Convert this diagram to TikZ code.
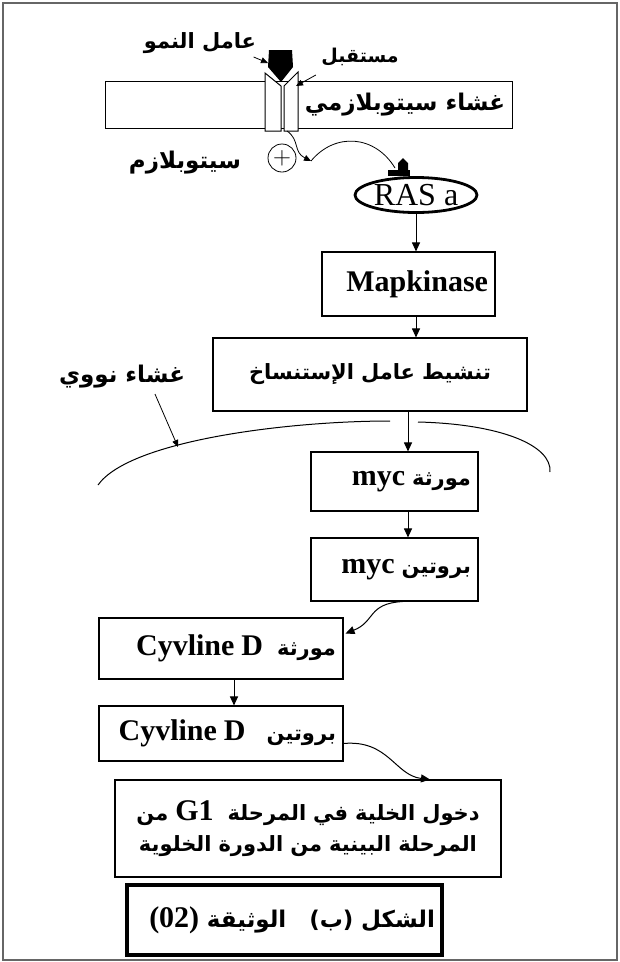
\documentclass[tikz,border=0pt]{standalone}
\usepackage{fontspec}
\setmainfont{Liberation Serif}
\newfontfamily\arabicfont[Script=Arabic]{DejaVu Sans}
\TeXXeTstate=1
\usetikzlibrary{arrows.meta,shapes.geometric,calc}
% latin words inside the arabic lines
\newcommand{\lat}[1]{\beginL{\rmfamily\bfseries\fontsize{30}{32}\selectfont #1}\endL{}}
\newcommand{\rtl}[1]{\beginR #1\endR}
\begin{document}
\begin{tikzpicture}[x=1pt,y=-1pt,
    box/.style={draw, line width=1.1pt, inner xsep=7pt, inner ysep=0pt},
    arr/.style={-{Triangle[length=9pt,width=8pt]}, line width=1pt},
    thinarr/.style={-{Triangle[length=7pt,width=6pt]}, line width=0.8pt},
    ar/.style={font=\arabicfont\bfseries\fontsize{21}{31}\selectfont},
    arbig/.style={font=\arabicfont\bfseries\fontsize{23}{30}\selectfont},
    lt/.style={font=\rmfamily\bfseries\fontsize{30}{32}\selectfont}]
\useasboundingbox (0,0) rectangle (620,962);
\draw[line width=1.5pt, black!60] (3,3) rectangle (617,960);
% membrane and receptor
\draw[line width=1pt] (105,81) rectangle (512,128);
\draw[line width=1pt, fill=white] (265,131) -- (265,73) -- (281,86) -- (281,131) -- cycle;
\draw[line width=1pt, fill=white] (284,131) -- (284,86) -- (298,72) -- (298,131) -- cycle;
\fill (269,50) -- (292,50) -- (293,67) -- (281,82) -- (268,67) -- cycle;
\coordinate (gf) at (268,63);
\coordinate (rcpt) at (296,86);
\coordinate (rbot) at (287,131);
\coordinate (kink) at (311,161);
\coordinate (nucpt) at (178,447);
\node[ar] (gflbl) at (200,43) {\rtl{عامل النمو}};
\node[ar, font=\arabicfont\bfseries\fontsize{19}{24}\selectfont] (rcptlbl) at (360,57) {\rtl{مستقبل}};
\node[arbig] (memlbl) at (405,105) {\rtl{غشاء سيتوبلازمي}};
\node[arbig] (cytlbl) at (185,163) {\rtl{سيتوبلازم}};
\node[draw, circle, line width=0.8pt, minimum size=28pt, inner sep=0pt, font=\fontsize{26}{26}\selectfont] (plus) at (282,158) {$+$};
\draw[thinarr] (gflbl.east) ++(-6,14) -- (gf);
\draw[thinarr] (rcptlbl.west) ++(-2,18) -- (rcpt);
% RAS
\node[draw, ellipse, line width=2.8pt, minimum width=122pt, minimum height=35pt, inner sep=0pt,
  font=\rmfamily\fontsize{32}{32}\selectfont] (ras) at (416,195) {RAS a};
\fill (388,170) rectangle (410,176);
\fill (398,176) -- (398,163) -- (403,158) -- (408,163) -- (408,176) -- cycle;
\draw[thinarr] (rbot) .. controls (300,140) and (293,152) .. (kink);
\draw[line width=0.8pt] (kink) .. controls (335,132) and (375,135) .. (395,168);
% boxes
\node[box, minimum height=64pt, text width=159pt, align=right, lt] (mapk) at (408.5,284) {Mapkinase};
\node[box, minimum height=73pt, text width=300pt, align=center, ar] (tf) at (370,374.5) {\rtl{تنشيط عامل الإستنساخ}};
\node[box, minimum height=59pt, text width=153pt, align=right, ar] (mycgene) at (394.5,481.5) {\rtl{مورثة \lat{myc}}};
\node[box, minimum height=63pt, text width=153pt, align=right, ar] (mycprot) at (394.5,569.5) {\rtl{بروتين \lat{myc}}};
\node[box, minimum height=61pt, text width=230pt, align=right, ar] (cycgene) at (221,648.5) {\rtl{مورثة \ \lat{Cyvline D}}};
\node[box, minimum height=55pt, text width=230pt, align=right, ar] (cycprot) at (221,733.5) {\rtl{بروتين \ \ \lat{Cyvline D}}};
\node[box, minimum height=97pt, text width=372pt, align=center, ar] (gone) at (308,828.5)
  {\rtl{دخول الخلية في المرحلة \ \lat{G1} من}\\ \rtl{المرحلة البينية من الدورة الخلوية}};
\node[box, line width=3.5pt, minimum height=70pt, text width=301pt, align=right, arbig] (title) at (284.5,920)
  {\rtl{الشكل (ب) \ \ الوثيقة \lat{(02)}}};
% nuclear membrane
\draw[line width=1pt] (98,485) .. controls (130,440) and (290,421) .. (390,421);
\draw[line width=1pt] (418,422) .. controls (500,424) and (552,445) .. (550,472);
\node[arbig] (nuclbl) at (122,377) {\rtl{غشاء نووي}};
\draw[thinarr] (nuclbl.south) ++(33,2) -- (nucpt);
% arrows
\coordinate (axis) at (408,0);
\coordinate (axisb) at (234,0);
\draw[arr] (ras.south) -- (ras.south |- mapk.north);
\draw[arr] (mapk.south -| ras.south) -- (tf.north -| ras.south);
\draw[arr] (tf.south -| axis) -- (mycgene.north -| axis);
\draw[arr] (mycgene.south -| axis) -- (mycprot.north -| axis);
\draw[arr] (mycprot.south) ++(8,0) .. controls +(-35,2) and +(30,-12) .. ($(cycgene.east)+(2,-15)$);
\draw[arr] (cycgene.south -| axisb) -- (cycprot.north -| axisb);
\draw[arr] (cycprot.east) ++(0,10) .. controls +(45,-4) and +(-35,-4) .. ($(gone.north)+(122,0)$);
\end{tikzpicture}
\end{document}
